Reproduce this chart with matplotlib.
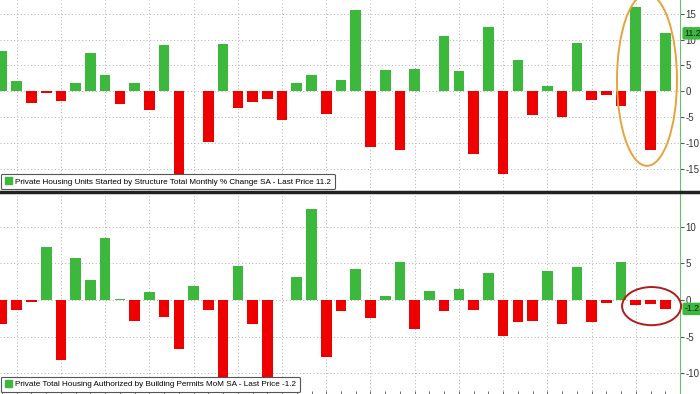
import matplotlib
matplotlib.use("Agg")
import matplotlib.pyplot as plt
import numpy as np
from matplotlib.patches import Patch, Ellipse
from matplotlib.lines import Line2D
from matplotlib import font_manager

# monthly % changes, oldest first
starts = [7.8, 2.0, -2.3, -0.3, -1.9, 1.55, 7.4, 3.2, -2.5, 1.7,
          -3.7, 8.9, -16.6, 0.05, -9.7, 9.2, -3.2, -2.0, -1.4, -5.6,
          1.7, 3.2, -4.4, 2.1, 15.8, -10.7, 4.1, -11.4, 4.4, 0.1,
          10.7, 3.9, -12.2, 12.5, -16.0, 6.1, -4.5, 1.0, -5.0, 9.3,
          -1.6, -0.8, -2.8, 16.2, -11.4, 11.2]
permits = [-3.2, -1.4, -0.2, 7.2, -8.1, 5.8, 2.8, 8.4, 0.2, -2.8,
           1.1, -2.3, -6.6, 1.95, -1.4, -11.2, 4.6, -3.2, -11.0, 0.05,
           3.1, 12.4, -7.7, -1.5, 4.3, -2.5, 0.55, 5.2, -3.9, 1.3,
           -1.55, 1.45, -1.3, 3.7, -4.9, -2.95, -2.8, 4.0, -3.2, 4.55,
           -2.95, -0.4, 5.2, -0.7, -0.5, -1.2]
starts_label = "Private Housing Units Started by Structure Total Monthly % Change SA - Last Price 11.2"
permits_label = "Private Total Housing Authorized by Building Permits MoM SA - Last Price -1.2"
top_ticks = [-15, -10, -5, 0, 5, 10, 15]
bottom_ticks = [-10, -5, 0, 5, 10]

GREEN = "#3cb83c"
RED = "#ee0000"
GRID = "#b0b0b0"

names = {f.name for f in font_manager.fontManager.ttflist}
fam = "Liberation Sans Narrow" if "Liberation Sans Narrow" in names else "Liberation Sans"
plt.rcParams["font.family"] = [fam, "DejaVu Sans"]
legend_size = 7.2 if fam == "Liberation Sans Narrow" else 5.9

W, H = 700, 394
fig = plt.figure(figsize=(7, 3.94), dpi=100)
ax1 = fig.add_axes([0, 1 - 191 / H, 680 / W, 191 / H])
ax2 = fig.add_axes([0, 0, 680 / W, 201 / H])

x = np.arange(len(starts))


def draw_panel(ax, vals, ylim, ticks, label, last, xticks):
    colors = [GREEN if v >= 0 else RED for v in vals]
    ax.bar(x, vals, width=0.72, color=colors, zorder=2)
    ax.set_xlim(-0.136, 46.0)
    ax.set_ylim(*ylim)
    ax.set_yticks(ticks)
    ax.set_yticklabels([str(t) for t in ticks])
    ax.yaxis.tick_right()
    ax.tick_params(axis="y", direction="out", length=3, width=0.6, colors="#333333",
                   labelsize=7, pad=1)
    if xticks:
        ax.set_xticks(x)
        ax.tick_params(axis="x", direction="in", length=2.5, width=0.6, colors="#555555",
                       labelbottom=False)
    else:
        ax.set_xticks([])
    for g in x[1::3]:
        ax.axvline(g, color=GRID, ls=(0, (1, 2.5)), lw=0.7, zorder=1)
    for t in ticks:
        ax.axhline(t, color=GRID, ls=(0, (1, 2.5)), lw=0.7, zorder=1)
    for s in ["top", "left", "bottom"]:
        ax.spines[s].set_visible(False)
    ax.spines["right"].set_color("#6cbf6c")
    ax.spines["right"].set_linewidth(0.8)
    leg = ax.legend(handles=[Patch(color=GREEN)], labels=[label], loc="lower left",
                    bbox_to_anchor=(0.0, 0.005), borderaxespad=0.1, fontsize=legend_size,
                    handlelength=0.9, handleheight=0.9, handletextpad=0.4,
                    borderpad=0.45, fancybox=True, framealpha=1)
    leg.get_frame().set_edgecolor("#555555")
    leg.get_frame().set_linewidth(0.8)
    ax.annotate(f"{last}", xy=(1.0, last), xycoords=("axes fraction", "data"),
                xytext=(3, 0), textcoords="offset points", va="center", ha="left",
                fontsize=6.3, color="#1a1a1a", zorder=6,
                bbox=dict(boxstyle="round,pad=0.2", fc="#3cb83c", ec="none"),
                annotation_clip=False)


draw_panel(ax1, starts, (-19.26, 17.64), top_ticks, starts_label, 11.2, False)
draw_panel(ax2, permits, (-12.8, 14.6), bottom_ticks, permits_label, -1.2, True)

# highlight rings
ax1.add_patch(Ellipse((43.76, 2.2), 4.07, 33.2, fill=False, ec="#e8a33c", lw=1.4,
                      zorder=3, clip_on=False))
ax2.add_patch(Ellipse((44.07, -0.82), 4.0, 5.2, fill=False, ec="#b01c1c", lw=1.4,
                      zorder=3, clip_on=False))

# panel separator
fig.add_artist(Line2D([0, 1], [1 - 192 / H, 1 - 192 / H], color="#222222", lw=2.5))

fig.savefig("out.png", dpi=100)
